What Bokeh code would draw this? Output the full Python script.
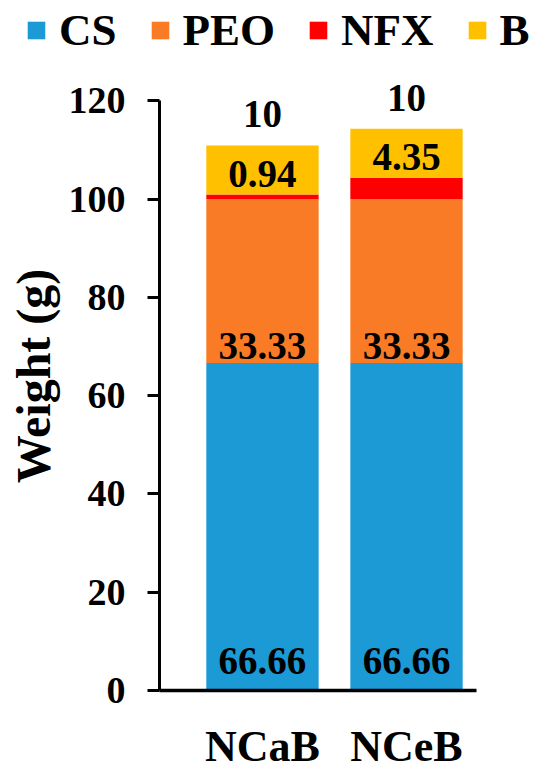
from bokeh.plotting import figure
from bokeh.layouts import column
from bokeh.models import (ColumnDataSource, Range1d, FixedTicker, LabelSet,
                          Legend, LegendItem)
from bokeh.core.properties import value
from bokeh.embed import file_html
from bokeh.resources import INLINE

# ---- data ----
categories = ["NCaB", "NCeB"]
series_names = ["CS", "PEO", "NFX", "B"]
cs = [66.66, 66.66]
peo = [33.33, 33.33]
nfx = [0.94, 4.35]
b = [10, 10]
y_ticks = [0, 20, 40, 60, 80, 100, 120]
colors = ["#1B9AD6", "#FA7B25", "#FF0000", "#FFC000"]

FONT = value("Liberation Serif")

xs = [i + 0.5 for i in range(len(categories))]
src = ColumnDataSource(dict(x=xs, CS=cs, PEO=peo, NFX=nfx, B=b))

p = figure(output_backend="svg", toolbar_location=None,
           frame_width=317, frame_height=629,
           min_border_left=159, min_border_top=0,
           min_border_bottom=88, min_border_right=60,
           x_range=Range1d(-0.215, 1.986), y_range=Range1d(0, 128))

rs = p.vbar_stack(series_names, x="x", width=0.78, source=src,
                  color=colors, line_color=None)

# ---- data labels ----
def fmt(v):
    return f"{v:g}"

lx, ly, lt, lo = [], [], [], []
for i in range(len(categories)):
    base_peo = cs[i]
    base_b = cs[i] + peo[i] + nfx[i]
    top = base_b + b[i]
    for yy, txt, off in [(0, cs[i], 17), (base_peo, peo[i], 4),
                         (base_b, nfx[i], 8), (top, b[i], 18)]:
        lx.append(xs[i]); ly.append(yy); lt.append(fmt(txt)); lo.append(off)
lab_src = ColumnDataSource(dict(x=lx, y=ly, text=lt, off=lo))
labels = LabelSet(x="x", y="y", text="text", y_offset="off", source=lab_src,
                  text_font=FONT, text_font_style="bold",
                  text_font_size="39px", text_color="black",
                  text_align="center", text_baseline="alphabetic")
p.add_layout(labels)

# ---- axes ----
p.xgrid.visible = False
p.ygrid.visible = False
p.outline_line_color = None

xa = p.xaxis[0]
xa.ticker = FixedTicker(ticks=xs)
xa.major_label_overrides = {x: c for x, c in zip(xs, categories)}
xa.major_tick_out = 0
xa.major_tick_in = 0
xa.minor_tick_out = 0
xa.minor_tick_in = 0
xa.axis_line_width = 3.5
xa.axis_line_color = "black"
xa.major_label_standoff = 31
xa.major_label_text_font = "Liberation Serif"
xa.major_label_text_font_style = "bold"
xa.major_label_text_font_size = "44px"
xa.major_label_text_color = "black"

ya = p.yaxis[0]
ya.ticker = FixedTicker(ticks=y_ticks)
ya.bounds = (0, 120)
ya.axis_line_width = 3
ya.axis_line_color = "black"
ya.major_tick_line_width = 3
ya.major_tick_line_color = "black"
ya.major_tick_out = 12
ya.major_tick_in = 0
ya.minor_tick_out = 0
ya.minor_tick_in = 0
ya.major_label_standoff = 22
ya.major_label_text_font = "Liberation Serif"
ya.major_label_text_font_style = "bold"
ya.major_label_text_font_size = "38px"
ya.major_label_text_color = "black"
ya.axis_label = "Weight (g)"
ya.axis_label_text_font = "Liberation Serif"
ya.axis_label_text_font_style = "bold"
ya.axis_label_text_font_size = "48px"
ya.axis_label_text_color = "black"
ya.axis_label_standoff = 6

# ---- legend (own strip above the chart) ----
lg = figure(output_backend="svg", toolbar_location=None,
            frame_width=536, frame_height=61,
            min_border_left=0, min_border_right=0,
            min_border_top=0, min_border_bottom=0,
            x_axis_type=None, y_axis_type=None,
            x_range=Range1d(0, 1), y_range=Range1d(0, 1))
lg.outline_line_color = None
lg.xgrid.visible = False
lg.ygrid.visible = False
# one off-screen bar per series, only so that the legend has swatches
off = ColumnDataSource(dict(x=[-10], top=[0]))
lrs = [lg.vbar(x="x", top="top", width=0.1, source=off, color=c, line_color=None)
       for c in colors]
legend = Legend(items=[LegendItem(label=n, renderers=[r], index=0)
                       for n, r in zip(series_names, lrs)],
                orientation="horizontal", location=(25, 5),
                glyph_width=22, glyph_height=22, label_standoff=12, spacing=32,
                padding=0, margin=0, border_line_color=None,
                background_fill_alpha=0,
                label_text_font="Liberation Serif", label_text_font_style="bold",
                label_text_font_size="45px", label_text_color="black")
lg.add_layout(legend, "center")

layout = column(lg, p, spacing=0)
open("out.html", "w").write(file_html(layout, INLINE))
